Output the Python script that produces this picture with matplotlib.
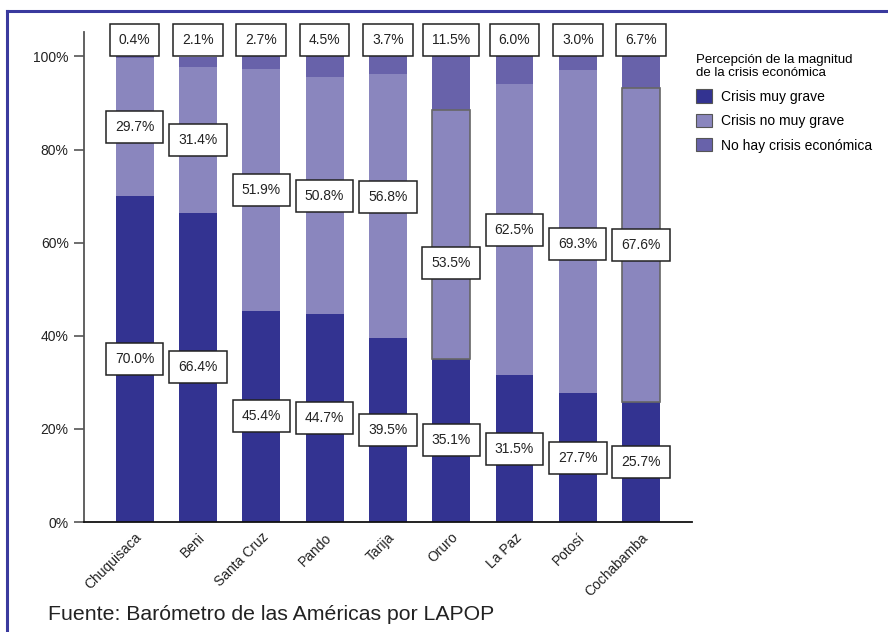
import numpy as np
import matplotlib
matplotlib.use("Agg")
import matplotlib.pyplot as plt
from matplotlib.patches import Patch

plt.rcParams['font.family'] = ['Liberation Sans', 'DejaVu Sans']

departments = ['Chuquisaca', 'Beni', 'Santa Cruz', 'Pando', 'Tarija',
               'Oruro', 'La Paz', 'Potosí', 'Cochabamba']
muy_grave = [70.0, 66.4, 45.4, 44.7, 39.5, 35.1, 31.5, 27.7, 25.7]
no_muy_grave = [29.7, 31.4, 51.9, 50.8, 56.8, 53.5, 62.5, 69.3, 67.6]
no_hay = [0.4, 2.1, 2.7, 4.5, 3.7, 11.5, 6.0, 3.0, 6.7]
series_names = ['Crisis muy grave', 'Crisis no muy grave', 'No hay crisis económica']

c_dark = '#333391'
c_mid = '#8A86BE'
c_top = '#6862AA'

# small vertical nudges (points) for the middle labels so they don't collide
mid_nudge = [0, 0, 0, 0, 6.5, -21, 0, -8.6, 0]
outlined = ['Oruro', 'Cochabamba']

fig = plt.figure(figsize=(8.88, 6.32), dpi=100)
ax = fig.add_axes([0.0946, 0.174, 0.6844, 0.775])

x = np.arange(len(departments))
a = np.array(muy_grave)
b = np.array(no_muy_grave)
c = np.array(no_hay)
w = 0.6

ax.bar(x, a, w, color=c_dark, zorder=2)
mid_edges = ['#666666' if d in outlined else 'none' for d in departments]
ax.bar(x, b, w, bottom=a, color=c_mid, edgecolor=mid_edges, linewidth=1.2, zorder=2)
ax.bar(x, c, w, bottom=a + b, color=c_top, zorder=1)

box = dict(boxstyle='square,pad=0.65', facecolor='white', edgecolor='#222222', linewidth=1.1)
for i in range(len(x)):
    ax.text(x[i], a[i] / 2, f'{a[i]:.1f}%', ha='center', va='center',
            fontsize=10, color='#222222', bbox=box, zorder=5)
    ax.annotate(f'{b[i]:.1f}%', (x[i], a[i] + b[i] / 2), xytext=(0, mid_nudge[i]),
                textcoords='offset points', ha='center', va='center',
                fontsize=10, color='#222222', bbox=box, zorder=5)
    ax.text(x[i], 103.6, f'{c[i]:.1f}%', ha='center', va='center',
            fontsize=10, color='#222222', bbox=box, zorder=5, clip_on=False)

ax.set_xlim(-0.8, 8.8)
ax.set_ylim(0, 105.2)
ax.set_yticks([0, 20, 40, 60, 80, 100])
ax.set_yticklabels(['0%', '20%', '40%', '60%', '80%', '100%'], fontsize=10, color='#222222')
ax.set_xticks(x)
ax.set_xticklabels(departments, rotation=45, ha='right', va='top',
                   rotation_mode='anchor', fontsize=10, color='#222222')
ax.tick_params(axis='x', length=0, pad=6)
ax.tick_params(axis='y', length=7, width=1.2, color='#555555', pad=4)
for s in ['top', 'right']:
    ax.spines[s].set_visible(False)
ax.spines['left'].set_color('#555555')
ax.spines['left'].set_linewidth(1.3)
ax.spines['bottom'].set_color('#111111')
ax.spines['bottom'].set_linewidth(1.3)

handles = [Patch(facecolor=col, edgecolor='#555555', linewidth=0.8)
           for col in [c_dark, c_mid, c_top]]
leg = fig.legend(handles, series_names, loc='upper left', bbox_to_anchor=(0.778, 0.924),
                 frameon=False, fontsize=10, title='Percepción de la magnitud\nde la crisis económica',
                 title_fontsize=9.5, alignment='left', handlelength=1.1, handleheight=1.1,
                 handletextpad=0.7, labelspacing=0.72, borderaxespad=0)

fig.text(0.054, 0.012, 'Fuente: Barómetro de las Américas por LAPOP',
         fontsize=15.3, color='#222222', ha='left', va='bottom')

# frame lines along top and left
fig.add_artist(plt.Line2D([0.008, 1.0], [0.983, 0.983], color='#3A3A9E', lw=2.2))
fig.add_artist(plt.Line2D([0.008, 0.008], [0.0, 0.983], color='#3A3A9E', lw=2.2))

fig.savefig('out.png', dpi=100)
